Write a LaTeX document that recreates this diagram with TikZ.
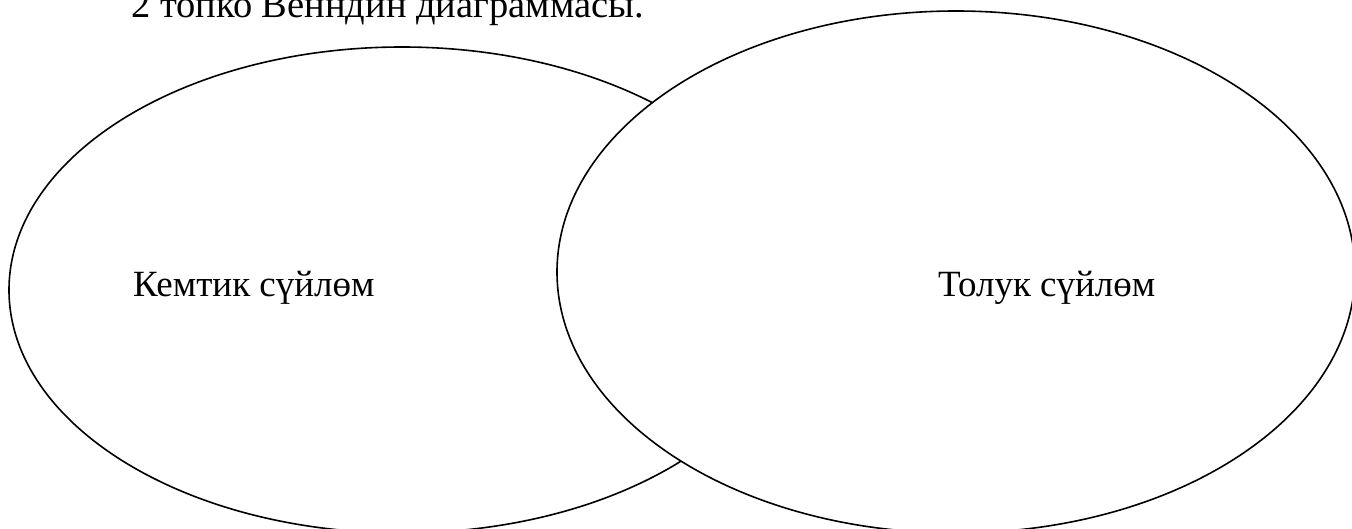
\documentclass[tikz,border=0pt]{standalone}
\usepackage{fontspec}
\setmainfont{Liberation Serif}
\begin{document}
\begin{tikzpicture}[x=1pt,y=-1pt,
  venn/.style={draw=black, line width=1.6pt},
  lbl/.style={anchor=base west, inner sep=0pt, font=\fontsize{37}{44}\selectfont},
  ttl/.style={anchor=base west, inner sep=0pt, font=\fontsize{38.5}{46}\selectfont}]
\useasboundingbox (0,0) rectangle (1352,529);
\clip (0,0) rectangle (1352,529);
\fill[white] (0,0) rectangle (1352,529);
\draw[venn] (402,290) ellipse [x radius=393pt, y radius=243pt];
\draw[venn, fill=white] (956,272) ellipse [x radius=399pt, y radius=261pt];
\node[ttl] (title) at (131,18) {2 топко Венндин диаграммасы.};
\node[lbl] (left) at (133,297) {Кемтик сүйлөм};
\node[lbl] (right) at (938,297) {Толук сүйлөм};
\end{tikzpicture}
\end{document}
